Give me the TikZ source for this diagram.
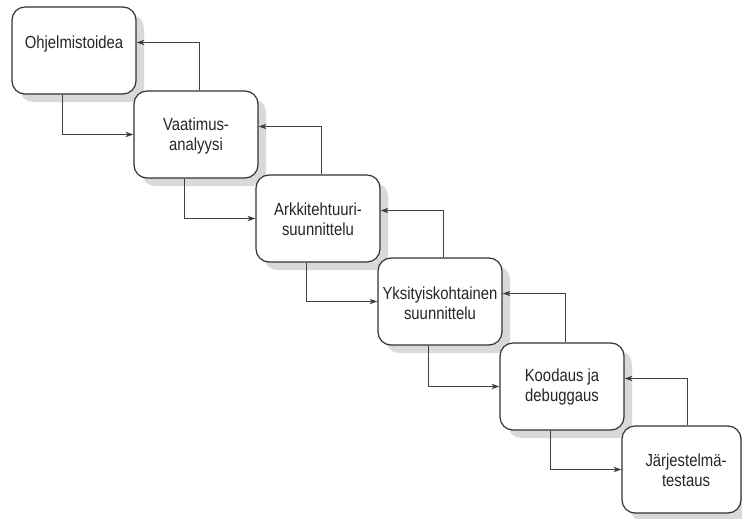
\documentclass[tikz,border=0pt]{standalone}
\usepackage{fontspec}
\setmainfont[FakeStretch=0.85]{Liberation Sans}
\usetikzlibrary{arrows.meta,shadows}
\begin{document}
\begin{tikzpicture}[x=1pt,y=1pt,
  phase/.style={draw=black!80, line width=1.2pt, fill=white, rounded corners=13pt,
    minimum width=124pt, minimum height=87pt, inner sep=0pt,
    drop shadow={shadow xshift=8pt, shadow yshift=-8pt, fill=black!15, opacity=1}},
  caption/.style={align=center, font=\fontsize{17.5}{19.5}\selectfont, text=black!85, inner sep=0pt},
  flow/.style={draw=black!75, line width=0.9pt, -{Stealth[length=8pt,width=5.5pt,inset=2.5pt]}}
]
\fill[white] (0,0) rectangle (742,-519);
\useasboundingbox (0,0) rectangle (742,-519);

% phase boxes, stepping down to the right
\node[phase] (b1) at (74,-50.5) {};
\node[phase] (b2) at (196,-134.5) {};
\node[phase] (b3) at (318,-218.5) {};
\node[phase] (b4) at (440,-301.5) {};
\node[phase] (b5) at (562,-386.5) {};
\node[phase, minimum width=119pt] (b6) at (681.5,-469.5) {};

% box texts
\node[caption] (t1) at (74,-44) {Ohjelmistoidea};
\node[caption] (t2) at (196,-136) {Vaatimus-\\analyysi};
\node[caption] (t3) at (318,-219) {Arkkitehtuuri-\\suunnittelu};
\node[caption] (t4) at (440,-303) {Yksityiskohtainen\\suunnittelu};
\node[caption] (t5) at (562,-387) {Koodaus ja\\debuggaus};
\node[caption] (t6) at (686,-470) {Järjestelmä-\\testaus};

% forward flow: bottom of a phase into the left side of the next
\foreach \a/\b in {b1/b2,b2/b3,b3/b4,b4/b5,b5/b6}
  \draw[flow] ([xshift=51pt]\a.south west) |- (\b.west);

% feedback: top of a phase back into the right side of the previous
\foreach \a/\b in {b2/b1,b3/b2,b4/b3,b5/b4,b6/b5}
  \draw[flow] ([xshift=66pt]\a.north west) |- ([yshift=8pt]\b.east);
\end{tikzpicture}
\end{document}
